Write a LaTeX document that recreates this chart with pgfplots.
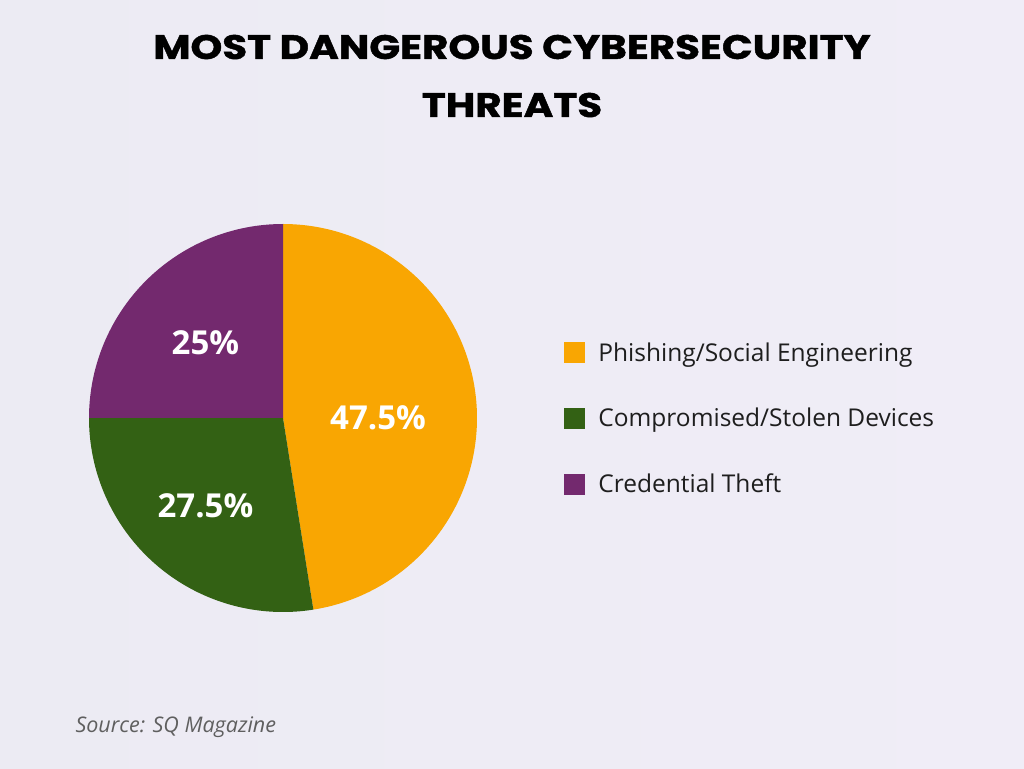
\documentclass[border=0pt]{standalone}
\usepackage{pgfplots}
\pgfplotsset{compat=1.18}
\usepackage{fontspec}
\setmainfont{Open Sans}
\newfontfamily\titlefont{Poppins}[FakeBold=1.2]
\definecolor{cOrange}{RGB}{249,166,2}
\definecolor{cGreen}{RGB}{51,97,20}
\definecolor{cPurple}{RGB}{115,41,110}
\definecolor{bgA}{RGB}{236,235,243}
\definecolor{bgB}{RGB}{248,237,241}
\definecolor{bgC}{RGB}{240,237,247}
\definecolor{txt}{RGB}{30,30,30}
\definecolor{src}{RGB}{95,95,95}
% slice values (percent)
\def\vA{47.5}
\def\vB{27.5}
\def\vC{25}
\begin{document}
\begin{tikzpicture}[x=1pt,y=1pt]
\shade[left color=bgA, middle color=bgB, right color=bgC] (0,0) rectangle (1024,768);
\useasboundingbox (0,0) rectangle (1024,768);
\node[font=\titlefont\bfseries\fontsize{34}{40}\selectfont, text=black, anchor=base] at (512,709) {\scalebox{1.19}[1]{MOST DANGEROUS CYBERSECURITY}};
\node[font=\titlefont\bfseries\fontsize{34}{40}\selectfont, text=black, anchor=base] at (512,651) {\scalebox{1.19}[1]{THREATS}};
\node[font=\itshape\fontsize{21.5}{24}\selectfont, text=src, anchor=base west] at (72,36) {Source: SQ Magazine};
\begin{axis}[at={(283pt,350pt)}, anchor=center, scale only axis,
  width=388pt, height=388pt, xmin=-1, xmax=1, ymin=-1, ymax=1,
  hide axis, clip=false,
  legend style={draw=none, fill=none, at={(1.217,0.705)}, anchor=north west,
    font=\fontsize{24.5}{28}\selectfont, text=txt, row sep=41.5pt,
    /tikz/every odd column/.append style={column sep=11pt}},
  legend cell align=left,
  legend image code/.code={\fill[#1] (0pt,-10.5pt) rectangle (21pt,10.5pt);}]
\addplot[fill=cOrange, draw=none, domain=90:{90-3.6*\vA}, samples=150]
  ({cos(x)},{sin(x)}) -- (axis cs:0,0) -- cycle;
\addlegendentry{Phishing/Social Engineering}
\addplot[fill=cGreen, draw=none, domain={90-3.6*\vA}:{90-3.6*(\vA+\vB)}, samples=100]
  ({cos(x)},{sin(x)}) -- (axis cs:0,0) -- cycle;
\addlegendentry{Compromised/Stolen Devices}
\addplot[fill=cPurple, draw=none, domain={90-3.6*(\vA+\vB)}:{90-3.6*(\vA+\vB+\vC)}, samples=100]
  ({cos(x)},{sin(x)}) -- (axis cs:0,0) -- cycle;
\addlegendentry{Credential Theft}
\node[font=\bfseries\fontsize{33}{38}\selectfont, text=white] at (axis cs:0.49,0) {47.5\%};
\node[font=\bfseries\fontsize{33}{38}\selectfont, text=white] at (axis cs:-0.40,-0.45) {27.5\%};
\node[font=\bfseries\fontsize{33}{38}\selectfont, text=white] at (axis cs:-0.40,0.39) {25\%};
\end{axis}
\end{tikzpicture}
\end{document}
